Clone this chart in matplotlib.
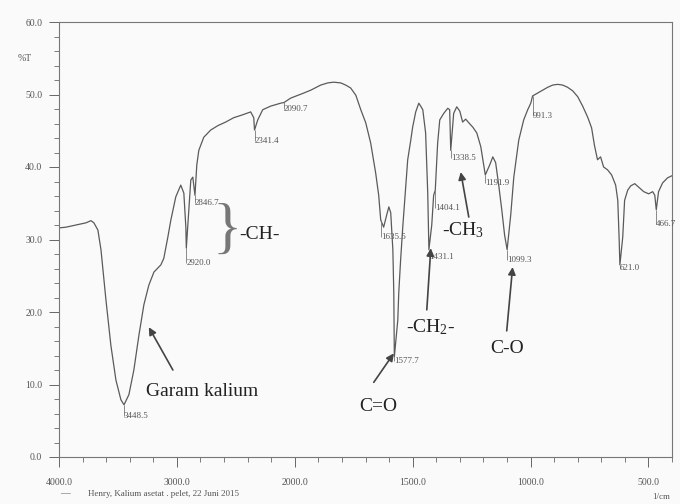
import numpy as np
import matplotlib
matplotlib.use("Agg")
import matplotlib.pyplot as plt
from matplotlib.ticker import FixedLocator, FixedFormatter

plt.rcParams['font.family'] = ['Liberation Serif', 'DejaVu Serif']
plt.rcParams['mathtext.fontset'] = 'custom'
plt.rcParams['mathtext.rm'] = 'Liberation Serif'
plt.rcParams['mathtext.it'] = 'Liberation Serif:italic'
plt.rcParams['mathtext.bf'] = 'Liberation Serif:bold'

# ---- spectrum (wavenumber 1/cm, %T) ----
wavenumber = [4000, 3941, 3856, 3771, 3729, 3704, 3670, 3644, 3602, 3560, 3517, 3475,
              3448.5, 3407, 3365, 3322, 3280, 3238, 3195, 3136, 3111, 3077, 3051, 3009,
              2967, 2941, 2924, 2920, 2899, 2882, 2865, 2846.7, 2831, 2814, 2772, 2713,
              2653, 2586, 2518, 2442, 2374, 2348, 2341.4, 2314, 2272, 2204, 2120, 2090.7,
              2035, 1962, 1932, 1890, 1860, 1835, 1805, 1784, 1763, 1741, 1720, 1699,
              1678, 1657, 1644, 1635.5, 1623, 1610, 1601, 1593, 1584, 1580, 1577.7, 1563,
              1559, 1551, 1542, 1529, 1521, 1508, 1500, 1487, 1474, 1466, 1457, 1445,
              1436, 1431.1, 1419, 1411, 1404.1, 1394, 1385, 1368, 1351, 1343, 1338.5, 1326,
              1313, 1300, 1288, 1275, 1262, 1245, 1228, 1211, 1199, 1191.9, 1173, 1160,
              1148, 1135, 1122, 1110, 1099.3, 1084, 1071, 1050, 1029, 1012, 999, 991.3,
              970, 948, 927, 906, 885, 864, 843, 821, 800, 779, 758, 741, 729, 716,
              703, 690, 673, 656, 639, 630, 624, 621.0, 609, 601, 588, 575, 558, 541,
              520, 499, 482, 473, 466.7, 457, 440, 419, 400]
transmittance = [31.6, 31.7, 32.0, 32.3, 32.6, 32.3, 31.3, 28.6, 21.7, 15.4, 10.6, 7.9,
                 7.2, 8.6, 12.0, 16.8, 21.0, 23.7, 25.5, 26.5, 27.4, 30.3, 32.7, 35.9,
                 37.5, 36.4, 31.7, 28.8, 34.1, 38.2, 38.6, 36.1, 40.3, 42.3, 44.1, 45.1,
                 45.7, 46.2, 46.8, 47.2, 47.6, 46.8, 45.1, 46.5, 47.9, 48.4, 48.8, 48.9,
                 49.5, 50.2, 50.6, 51.3, 51.6, 51.7, 51.6, 51.3, 50.9, 49.9, 47.9, 46.1,
                 43.3, 39.2, 36.1, 32.7, 31.7, 33.4, 34.5, 33.7, 28.6, 22.6, 13.8, 18.9,
                 22.6, 27.2, 31.7, 37.5, 41.0, 43.7, 45.5, 47.6, 48.8, 48.4, 47.9, 44.7,
                 36.4, 28.6, 32.0, 36.1, 36.8, 43.3, 46.5, 47.4, 48.1, 47.9, 42.3, 47.4,
                 48.3, 47.7, 46.2, 46.6, 46.1, 45.5, 44.7, 42.8, 40.3, 38.9, 40.3, 41.4,
                 40.6, 37.5, 34.1, 30.6, 28.6, 33.4, 38.6, 43.7, 46.5, 47.9, 48.8, 49.8,
                 50.2, 50.6, 51.0, 51.3, 51.4, 51.3, 51.0, 50.5, 49.7, 48.4, 46.9, 45.4, 43.0, 41.0,
                 41.4, 40.0, 39.6, 38.9, 37.5, 35.4, 29.9, 26.5, 30.3, 35.4, 36.8, 37.4, 37.7, 37.2,
                 36.6, 36.3, 36.6, 36.1, 34.1, 36.6, 37.8, 38.5, 38.8]

# ---- peak labels ----
peak_wn = [3448.5, 2920.0, 2846.7, 2341.4, 2090.7, 1635.5, 1577.7, 1431.1, 1404.1,
           1338.5, 1191.9, 1099.3, 991.3, 621.0, 466.7]
peak_t = [7.2, 28.8, 36.1, 45.1, 48.9, 32.7, 13.8, 28.6, 36.8, 42.3, 38.9, 28.6, 49.8, 26.5, 34.1]
peak_label_t = [5.6, 26.8, 35.0, 43.6, 48.0, 30.4, 13.2, 27.6, 34.4, 41.2, 37.8, 27.2, 47.0, 26.0, 32.2]

# ---- group annotations ----
group_text = ["Garam kalium", "C=O", "-CH$_2$-", "-CH$_3$", "C-O"]
group_xy = [(2789, 9.1), (1644, 6.9), (1425, 17.9), (1288, 31.3), (1101, 15.0)]
arrow_tail = [(3034, 12.0), (1665, 10.3), (1440, 20.3), (1262, 33.1), (1101, 17.4)]
arrow_head = [(3238, 17.9), (1580, 14.3), (1423, 28.8), (1296, 39.3), (1076, 26.2)]

xtick_vals = [4000, 3000, 2000, 1500, 1000, 500]
xtick_labels = ["4000.0", "3000.0", "2000.0", "1500.0", "1000.0", "500.0"]
ytick_vals = [0, 10, 20, 30, 40, 50, 60]
ytick_labels = ["0.0", "10.0", "20.0", "30.0", "40.0", "50.0", "60.0"]


def fwd(w):
    w = np.asarray(w, dtype=float)
    return np.where(w > 2000, 2000 + (w - 2000) / 2.0, w)


def inv(u):
    u = np.asarray(u, dtype=float)
    return np.where(u > 2000, 2000 + (u - 2000) * 2.0, u)


fig = plt.figure(figsize=(6.8, 5.04), dpi=100)
fig.patch.set_facecolor('#fafafa')
ax = fig.add_axes([59 / 680, 1 - 457 / 504, (672 - 59) / 680, (457 - 22) / 504])
ax.set_facecolor('#fafafa')
ax.set_xscale('function', functions=(fwd, inv))
ax.set_xlim(4000, 400)
ax.set_ylim(0, 60)

line_col = '#5a5a5a'
ax.plot(wavenumber, transmittance, color=line_col, lw=0.9)

# peak markers
ax.vlines(peak_wn, peak_label_t, peak_t, color='#777777', lw=0.6)
for w, t in zip(peak_wn, peak_label_t):
    ax.text(w, t, ("%.1f" % w), fontsize=6.5, color='#555555', ha='left', va='center')

# group annotations
for txt, (tx, ty), tail, head in zip(group_text, group_xy, arrow_tail, arrow_head):
    ax.text(tx, ty, txt, fontsize=14, color='#222222', ha='center', va='center')
    ax.annotate('', xy=head, xytext=tail,
                arrowprops=dict(arrowstyle='-|>', color='#444444', lw=1.2, mutation_scale=11,
                                shrinkA=0, shrinkB=0))

# brace and -CH-
ax.text(2575, 31.0, "}", fontsize=44, color='#777777', ha='center', va='center')
ax.text(2300, 30.7, "-CH-", fontsize=14, color='#222222', ha='center', va='center')

# ticks
ax.xaxis.set_major_locator(FixedLocator(xtick_vals))
ax.xaxis.set_major_formatter(FixedFormatter(xtick_labels))
minor_x = list(range(4000, 2000, -200)) + list(range(2000, 399, -100))
ax.xaxis.set_minor_locator(FixedLocator(minor_x))
ax.yaxis.set_major_locator(FixedLocator(ytick_vals))
ax.yaxis.set_major_formatter(FixedFormatter(ytick_labels))
ax.yaxis.set_minor_locator(FixedLocator(list(range(0, 61, 2))))
ax.tick_params(which='major', direction='out', length=7, width=0.7, color='#666666',
               labelsize=7, labelcolor='#555555', pad=5)
ax.tick_params(which='minor', direction='out', length=3.5, width=0.6, color='#666666')
ax.tick_params(axis='x', which='major', pad=8)
for s in ax.spines.values():
    s.set_color('#777777')
    s.set_linewidth(0.8)

ax.text(-0.045, 55.0, "%T", transform=ax.get_yaxis_transform(), fontsize=7,
        color='#555555', ha='right', va='center')

fig.text(60 / 680, 1 - 494 / 504, "\u2014", fontsize=7, color='#666666', ha='left', va='center')
fig.text(88 / 680, 1 - 494 / 504, "Henry, Kalium asetat . pelet, 22 Juni 2015",
         fontsize=6.5, color='#555555', ha='left', va='center')
fig.text(670 / 680, 1 - 497 / 504, "1/cm", fontsize=6.5, color='#555555', ha='right', va='center')

fig.savefig("out.png", dpi=100, facecolor=fig.get_facecolor())
